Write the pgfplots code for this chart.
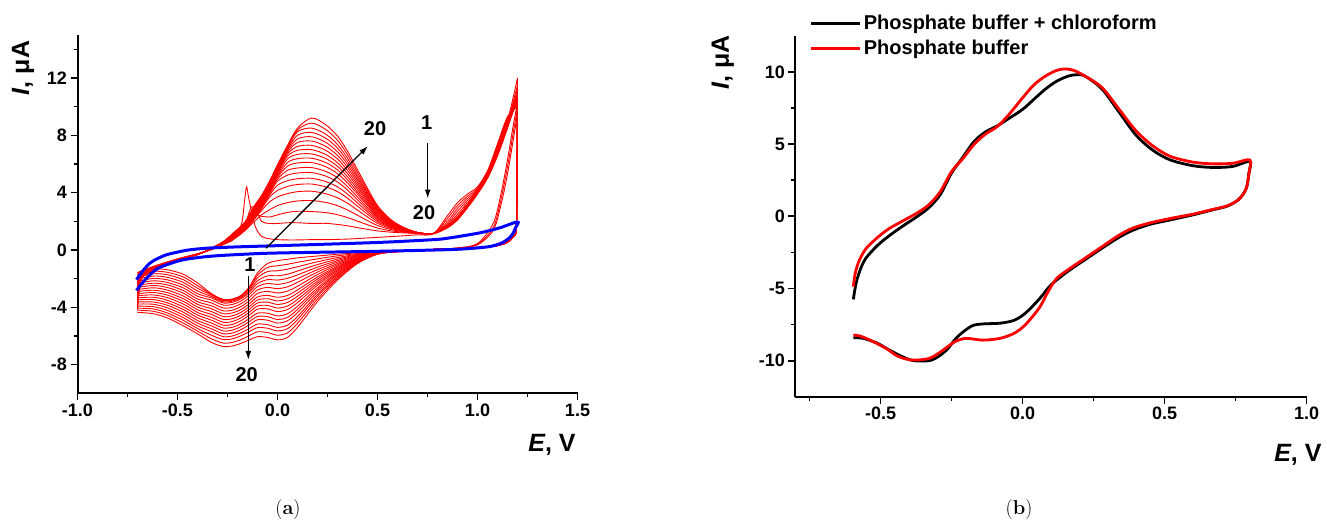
\documentclass[border=0pt]{standalone}
\usepackage{pgfplots}
\usepackage{pgfplotstable}
\pgfplotsset{compat=1.18}
\usepackage{fontspec}
\usetikzlibrary{arrows.meta}
\newfontfamily\arial{Liberation Sans}

\pgfplotstableread{
x c1 c2 c3 c4 c5 c6 c7 c8 c9 c10 c11 c12 c13 c14 c15 c16 c17 c18 c19 c20
-0.70 -1.60 -1.60 -1.74 -1.89 -2.03 -2.18 -2.32 -2.47 -2.61 -2.76 -2.90 -3.05 -3.19 -3.34 -3.48 -3.63 -3.77 -3.92 -4.06 -4.20
-0.68 -1.45 -1.48 -1.51 -1.54 -1.57 -1.60 -1.63 -1.66 -1.69 -1.72 -1.75 -1.78 -1.81 -1.84 -1.87 -1.90 -1.93 -1.96 -1.99 -2.02
-0.60 -1.05 -1.07 -1.08 -1.10 -1.11 -1.13 -1.14 -1.16 -1.17 -1.19 -1.20 -1.22 -1.23 -1.25 -1.26 -1.28 -1.29 -1.31 -1.32 -1.34
-0.50 -0.62 -0.63 -0.64 -0.64 -0.65 -0.66 -0.67 -0.68 -0.68 -0.69 -0.70 -0.71 -0.72 -0.72 -0.73 -0.74 -0.75 -0.76 -0.76 -0.77
-0.40 -0.27 -0.27 -0.28 -0.28 -0.28 -0.29 -0.29 -0.29 -0.30 -0.30 -0.30 -0.31 -0.31 -0.31 -0.32 -0.32 -0.32 -0.33 -0.33 -0.33
-0.33 0.03 0.04 0.04 0.05 0.05 0.06 0.06 0.07 0.07 0.08 0.08 0.09 0.09 0.10 0.10 0.11 0.11 0.12 0.12 0.13
-0.27 0.40 0.40 0.40 0.40 0.41 0.43 0.44 0.45 0.46 0.48 0.49 0.50 0.51 0.53 0.54 0.55 0.56 0.58 0.59 0.60
-0.22 0.74 0.76 0.76 0.75 0.78 0.81 0.83 0.86 0.89 0.92 0.95 0.98 1.00 1.03 1.06 1.09 1.12 1.14 1.17 1.20
-0.18 1.80 1.25 1.20 1.15 1.18 1.22 1.25 1.29 1.32 1.36 1.39 1.43 1.46 1.49 1.53 1.56 1.60 1.63 1.67 1.70
-0.165 3.40 1.60 nan nan nan nan nan nan nan nan nan nan nan nan nan nan nan nan nan nan
-0.155 4.40 2.00 1.60 1.45 1.49 1.53 1.57 1.61 1.65 1.69 1.73 1.78 1.82 1.86 1.90 1.94 1.98 2.02 2.06 2.10
-0.145 3.70 2.50 nan nan nan nan nan nan nan nan nan nan nan nan nan nan nan nan nan nan
-0.13 2.70 3.00 2.20 1.80 1.91 1.96 2.02 2.08 2.13 2.19 2.24 2.30 2.36 2.41 2.47 2.53 2.58 2.64 2.69 2.75
-0.11 1.60 2.90 2.45 2.05 2.24 2.33 2.39 2.45 2.51 2.58 2.64 2.70 2.76 2.83 2.89 2.95 3.01 3.08 3.14 3.20
-0.08 0.95 2.00 2.35 2.45 2.75 2.87 2.95 3.01 3.08 3.14 3.21 3.28 3.34 3.41 3.47 3.54 3.60 3.67 3.73 3.80
-0.04 0.78 1.85 2.30 2.80 3.35 3.68 3.82 3.92 4.00 4.08 4.15 4.23 4.30 4.37 4.44 4.51 4.58 4.66 4.73 4.80
0.00 0.72 1.85 2.45 3.10 3.70 4.15 4.52 4.80 4.95 5.07 5.17 5.27 5.36 5.44 5.53 5.61 5.70 5.78 5.87 5.95
0.05 0.70 1.90 2.62 3.30 3.93 4.43 4.83 5.22 5.55 5.85 6.10 6.35 6.55 6.70 6.82 6.93 7.03 7.13 7.21 7.30
0.10 0.70 1.90 2.70 3.42 4.07 4.57 4.97 5.37 5.72 6.07 6.37 6.67 6.95 7.22 7.50 7.75 8.00 8.25 8.38 8.50
0.17 0.72 1.85 2.68 3.45 4.10 4.60 5.00 5.40 5.75 6.10 6.40 6.70 7.00 7.30 7.60 7.90 8.20 8.50 8.85 9.20
0.24 0.72 1.86 2.61 3.32 3.93 4.41 4.78 5.16 5.49 5.82 6.11 6.39 6.67 6.96 7.24 7.52 7.81 8.09 8.42 8.75
0.30 0.74 1.78 2.46 3.09 3.64 4.07 4.40 4.74 5.04 5.33 5.59 5.84 6.09 6.35 6.60 6.85 7.11 7.36 7.66 7.95
0.35 0.76 1.69 2.26 2.79 3.26 3.61 3.90 4.18 4.43 4.68 4.90 5.11 5.33 5.54 5.76 5.97 6.18 6.40 6.65 6.90
0.40 0.80 1.56 2.01 2.42 2.78 3.06 3.28 3.50 3.69 3.89 4.05 4.22 4.39 4.55 4.72 4.88 5.05 5.21 5.41 5.60
0.45 0.84 1.44 1.76 2.05 2.30 2.50 2.66 2.81 2.95 3.09 3.20 3.32 3.44 3.55 3.67 3.79 3.91 4.02 4.16 4.30
0.50 0.88 1.33 1.53 1.71 1.86 1.98 2.08 2.18 2.26 2.35 2.42 2.49 2.57 2.64 2.71 2.78 2.86 2.93 3.01 3.10
0.56 0.93 1.25 1.35 1.45 1.53 1.60 1.65 1.70 1.75 1.79 1.83 1.87 1.91 1.95 1.99 2.03 2.07 2.11 2.15 2.20
0.62 0.98 1.20 1.25 1.29 1.33 1.36 1.39 1.41 1.44 1.46 1.48 1.49 1.51 1.53 1.55 1.57 1.59 1.61 1.63 1.65
0.70 1.06 1.16 1.16 1.17 1.18 1.18 1.18 1.19 1.19 1.19 1.20 1.20 1.20 1.21 1.21 1.21 1.21 1.22 1.22 1.22
0.78 1.14 1.15 1.15 1.15 1.15 1.15 1.15 1.15 1.15 1.15 1.15 1.15 1.15 1.15 1.15 1.15 1.15 1.15 1.15 1.15
0.85 2.40 2.20 2.00 1.85 1.75 1.70 1.65 1.55 1.56 1.58 1.59 1.60 1.61 1.63 1.64 1.65 1.66 1.68 1.69 1.70
0.90 3.30 3.10 2.90 2.70 2.50 2.35 2.25 2.10 2.12 2.13 2.15 2.17 2.18 2.20 2.22 2.23 2.25 2.27 2.28 2.30
0.95 3.90 3.75 3.60 3.45 3.30 3.15 3.05 2.95 2.97 2.99 3.01 3.03 3.05 3.08 3.10 3.12 3.14 3.16 3.18 3.20
1.00 4.40 4.30 4.20 4.10 4.05 4.00 3.95 3.90 3.93 3.97 4.00 4.03 4.07 4.10 4.13 4.17 4.20 4.23 4.27 4.30
1.05 5.50 5.40 5.35 5.30 5.25 5.20 5.10 5.00 5.04 5.08 5.13 5.17 5.21 5.25 5.29 5.33 5.38 5.42 5.46 5.50
1.10 7.00 6.95 6.90 6.85 6.80 6.75 6.65 6.55 6.62 6.69 6.76 6.83 6.90 6.97 7.05 7.12 7.19 7.26 7.33 7.40
1.15 9.00 8.90 8.85 8.80 8.75 8.70 8.60 8.50 8.57 8.63 8.70 8.77 8.83 8.90 8.97 9.03 9.10 9.17 9.23 9.30
1.20 12.0 11.5 11.2 11.0 10.9 10.8 10.7 10.6 10.6 10.5 10.5 10.4 10.4 10.3 10.3 10.2 10.2 10.1 10.1 10.0
}\cvup

\pgfplotstableread{
x c1 c2 c3 c4 c5 c6 c7 c8 c9 c10 c11 c12 c13 c14 c15 c16 c17 c18 c19 c20
1.20 12.0 11.5 11.2 11.0 10.9 10.8 10.7 10.6 10.6 10.5 10.5 10.4 10.4 10.3 10.3 10.2 10.2 10.1 10.1 10.0
1.195 10.0 9.6 9.2 2.0 2.0 2.0 2.0 2.0 2.0 2.0 2.0 2.0 2.0 2.0 2.0 2.0 2.0 2.0 2.0 2.0
1.18 8.8 8.3 7.8 0.95 0.95 0.95 0.95 0.95 0.95 0.95 0.95 0.95 0.95 0.95 0.95 0.95 0.95 0.95 0.95 0.95
1.15 6.3 5.8 5.3 0.55 0.55 0.55 0.55 0.55 0.55 0.55 0.55 0.55 0.55 0.55 0.55 0.55 0.55 0.55 0.55 0.55
1.12 4.1 3.7 3.3 0.38 0.38 0.38 0.38 0.38 0.38 0.38 0.38 0.38 0.38 0.38 0.38 0.38 0.38 0.38 0.38 0.38
1.08 1.9 1.6 1.4 0.26 0.26 0.26 0.26 0.26 0.26 0.26 0.26 0.26 0.26 0.26 0.26 0.26 0.26 0.26 0.26 0.26
1.00 0.45 0.40 0.35 0.15 0.15 0.15 0.15 0.15 0.15 0.15 0.15 0.15 0.15 0.15 0.15 0.15 0.15 0.15 0.15 0.15
0.90 0.15 0.13 0.12 0.10 0.10 0.10 0.10 0.10 0.10 0.10 0.10 0.10 0.10 0.10 0.10 0.10 0.10 0.10 0.10 0.10
0.80 0.05 0.05 0.05 0.05 0.05 0.05 0.05 0.05 0.05 0.05 0.05 0.05 0.05 0.05 0.05 0.05 0.05 0.05 0.05 0.05
0.70 -0.02 -0.02 -0.02 -0.02 -0.02 -0.02 -0.02 -0.02 -0.02 -0.02 -0.02 -0.02 -0.02 -0.02 -0.02 -0.02 -0.02 -0.02 -0.02 -0.02
0.60 -0.07 -0.08 -0.08 -0.08 -0.09 -0.09 -0.09 -0.09 -0.10 -0.10 -0.10 -0.10 -0.11 -0.11 -0.11 -0.11 -0.12 -0.12 -0.12 -0.12
0.50 -0.12 -0.13 -0.14 -0.15 -0.16 -0.17 -0.18 -0.19 -0.20 -0.21 -0.22 -0.23 -0.24 -0.25 -0.26 -0.26 -0.27 -0.28 -0.29 -0.30
0.40 -0.20 -0.25 -0.30 -0.34 -0.38 -0.42 -0.47 -0.51 -0.55 -0.58 -0.61 -0.65 -0.68 -0.72 -0.76 -0.79 -0.83 -0.87 -0.91 -0.95
0.30 -0.30 -0.41 -0.53 -0.64 -0.74 -0.84 -0.94 -1.03 -1.13 -1.21 -1.29 -1.38 -1.46 -1.56 -1.64 -1.72 -1.82 -1.90 -2.00 -2.10
0.20 -0.42 -0.62 -0.82 -1.02 -1.20 -1.37 -1.54 -1.72 -1.89 -2.03 -2.18 -2.32 -2.46 -2.64 -2.78 -2.93 -3.10 -3.24 -3.42 -3.60
0.10 -0.55 -0.86 -1.17 -1.47 -1.74 -2.00 -2.26 -2.53 -2.79 -3.01 -3.23 -3.45 -3.67 -3.93 -4.15 -4.37 -4.64 -4.86 -5.12 -5.40
0.05 -0.65 -1.00 -1.34 -1.69 -1.98 -2.28 -2.57 -2.87 -3.17 -3.41 -3.66 -3.91 -4.15 -4.45 -4.70 -4.94 -5.24 -5.49 -5.78 -6.10
0.00 -0.75 -1.10 -1.45 -1.80 -2.10 -2.40 -2.70 -3.00 -3.30 -3.55 -3.80 -4.05 -4.30 -4.60 -4.85 -5.10 -5.40 -5.65 -5.95 -6.27
-0.05 -0.95 -1.22 -1.51 -1.81 -2.07 -2.34 -2.61 -2.89 -3.17 -3.40 -3.64 -3.87 -4.11 -4.41 -4.65 -4.90 -5.21 -5.46 -5.76 -6.10
-0.10 -1.60 -1.76 -1.94 -2.15 -2.34 -2.56 -2.79 -3.03 -3.28 -3.49 -3.70 -3.91 -4.13 -4.41 -4.64 -4.87 -5.17 -5.42 -5.71 -6.05
-0.14 -2.55 -2.62 -2.70 -2.82 -2.94 -3.11 -3.32 -3.53 -3.74 -3.94 -4.13 -4.33 -4.53 -4.78 -4.99 -5.21 -5.47 -5.69 -5.97 -6.27
-0.18 -3.15 -3.19 -3.23 -3.31 -3.39 -3.54 -3.73 -3.93 -4.13 -4.33 -4.52 -4.71 -4.91 -5.13 -5.33 -5.54 -5.76 -5.97 -6.24 -6.50
-0.22 -3.40 -3.44 -3.48 -3.55 -3.63 -3.78 -3.98 -4.18 -4.37 -4.57 -4.77 -4.97 -5.17 -5.37 -5.57 -5.77 -5.98 -6.18 -6.43 -6.68
-0.27 -3.45 -3.50 -3.55 -3.62 -3.70 -3.85 -4.05 -4.25 -4.45 -4.65 -4.85 -5.05 -5.25 -5.45 -5.65 -5.85 -6.05 -6.25 -6.50 -6.74
-0.33 -3.05 -3.10 -3.15 -3.25 -3.35 -3.50 -3.70 -3.90 -4.10 -4.30 -4.50 -4.70 -4.90 -5.10 -5.30 -5.50 -5.70 -5.95 -6.20 -6.45
-0.40 -2.30 -2.49 -2.67 -2.86 -3.05 -3.23 -3.42 -3.61 -3.79 -3.98 -4.17 -4.36 -4.54 -4.73 -4.92 -5.10 -5.29 -5.48 -5.66 -5.85
-0.47 -1.70 -1.89 -2.08 -2.27 -2.46 -2.65 -2.84 -3.02 -3.22 -3.41 -3.59 -3.78 -3.98 -4.16 -4.35 -4.54 -4.73 -4.92 -5.11 -5.30
-0.55 -1.38 -1.56 -1.73 -1.91 -2.09 -2.27 -2.44 -2.62 -2.80 -2.98 -3.15 -3.33 -3.51 -3.69 -3.86 -4.04 -4.22 -4.40 -4.57 -4.75
-0.62 -1.33 -1.49 -1.66 -1.82 -1.99 -2.15 -2.32 -2.48 -2.64 -2.81 -2.97 -3.14 -3.30 -3.46 -3.63 -3.79 -3.96 -4.12 -4.28 -4.45
-0.70 -1.60 -1.74 -1.89 -2.03 -2.18 -2.32 -2.47 -2.61 -2.76 -2.90 -3.05 -3.19 -3.34 -3.48 -3.63 -3.77 -3.92 -4.06 -4.20 -4.35
}\cvdown

\pgfplotsset{
  cvstyle/.style={
    scale only axis,
    axis x line*=bottom, axis y line*=left,
    axis line style={-, line width=2pt},
    tick pos=left,
    tick align=outside,
    major tick length=7pt, minor tick length=4pt,
    tick style={black, line width=1.6pt},
    tick label style={font=\arial\bfseries\fontsize{18}{18}\selectfont},
    label style={font=\arial\bfseries\fontsize{25}{25}\selectfont},
    clip=false,
  },
}
\tikzset{
  arr/.style={-{Latex[length=9pt,width=6pt]}, line width=1.3pt, black},
  ann/.style={font=\arial\bfseries\fontsize{20}{20}\selectfont},
}

\begin{document}
\begin{tikzpicture}[x=1pt,y=1pt]
\useasboundingbox (0pt,0pt) rectangle (1327pt,521pt);

\begin{axis}[cvstyle,
  at={(77.5pt,127.7pt)}, anchor=south west,
  width=500pt, height=358.3pt,
  xmin=-1, xmax=1.5, ymin=-10, ymax=15,
  xtick={-1,-0.5,0,0.5,1,1.5}, xticklabels={-1.0,-0.5,0.0,0.5,1.0,1.5},
  minor xtick={-0.75,-0.25,0.25,0.75,1.25},
  ytick={-8,-4,0,4,8,12}, yticklabels={-8,-4,0,4,8,12},
  minor ytick={-6,-2,2,6,10,14},
  xlabel={\textit{E}, V}, ylabel={\textit{I}, μA},
  xlabel style={at={(axis description cs:0.949,-0.144)}, anchor=center},
  ylabel style={at={(axis description cs:-0.109,0.908)}, anchor=center},
]
\pgfplotsinvokeforeach{1,...,20}{
  \addplot[red, line width=0.9pt, smooth, tension=0.5] table[x=x, y=c#1] {\cvup};
  \addplot[red, line width=0.9pt, smooth, tension=0.5] table[x=x, y=c#1] {\cvdown};
}
\addplot[blue, line width=3pt, smooth, tension=0.5] coordinates {
(-0.705,-2.07) (-0.67,-1.40) (-0.637,-0.91) (-0.60,-0.60) (-0.554,-0.33) (-0.50,-0.15)
(-0.454,-0.02) (-0.40,0.07) (-0.337,0.14) (-0.25,0.19) (-0.17,0.23) (0.0,0.30)
(0.28,0.42) (0.53,0.54) (0.78,0.72) (0.86,0.84) (1.01,1.19) (1.11,1.54) (1.20,1.96)
(1.19,1.55) (1.179,1.19) (1.16,0.85) (1.129,0.54) (1.09,0.33) (1.046,0.21) (0.95,0.09)
(0.846,0.02) (0.51,-0.09) (0.0,-0.21) (-0.17,-0.30) (-0.337,-0.44) (-0.47,-0.68)
(-0.554,-1.03) (-0.60,-1.30) (-0.637,-1.72) (-0.67,-2.20) (-0.705,-2.82)
};
\draw[arr] (axis cs:-0.0575,0.12) -- (axis cs:0.452,7.25);
\node[ann] at (axis cs:0.4875,8.46) {20};
\node[ann] at (axis cs:-0.1375,-1.03) {1};
\draw[arr] (axis cs:-0.146,-1.84) -- (axis cs:-0.146,-7.67);
\node[ann] at (axis cs:-0.154,-8.72) {20};
\draw[arr] (axis cs:0.751,7.44) -- (axis cs:0.751,3.59);
\node[ann] at (axis cs:0.746,8.88) {1};
\node[ann] at (axis cs:0.733,2.59) {20};
\end{axis}

\begin{axis}[cvstyle,
  at={(795.4pt,124.1pt)}, anchor=south west,
  width=511.2pt, height=361.2pt,
  xmin=-0.8, xmax=1.0, ymin=-12.5, ymax=12.5,
  xtick={-0.5,0,0.5,1}, xticklabels={-0.5,0.0,0.5,1.0},
  minor xtick={-0.75,-0.25,0.25,0.75},
  ytick={-10,-5,0,5,10}, yticklabels={-10,-5,0,5,10},
  minor ytick={-7.5,-2.5,2.5,7.5},
  xlabel={\textit{E}, V}, ylabel={\textit{I}, μA},
  xlabel style={at={(axis description cs:0.983,-0.161)}, anchor=center},
  ylabel style={at={(axis description cs:-0.142,0.926)}, anchor=center},
  legend style={draw=none, fill=none, at={(axis description cs:0.022,1.068)}, anchor=north west,
    font=\arial\bfseries\fontsize{20}{20}\selectfont, row sep=5pt},
  legend cell align=left,
  legend image code/.code={\draw[#1, line width=3pt] (0pt,0pt) -- (49pt,0pt);},
]
\addplot[black, line width=2.8pt, smooth, tension=0.5] coordinates {
(-0.596,-5.75) (-0.586,-4.6) (-0.57,-3.6) (-0.55,-2.85) (-0.51,-2.0) (-0.47,-1.35)
(-0.42,-0.65) (-0.37,0.0) (-0.33,0.6) (-0.29,1.5) (-0.25,3.0) (-0.21,4.1) (-0.17,5.2)
(-0.13,5.85) (-0.09,6.25) (-0.05,6.75) (0.0,7.4) (0.04,8.1) (0.08,8.8) (0.12,9.35)
(0.16,9.7) (0.19,9.8) (0.22,9.7) (0.28,8.8) (0.34,7.2) (0.40,5.6) (0.46,4.55) (0.52,3.9)
(0.60,3.5) (0.67,3.38) (0.74,3.45) (0.80,3.8)
(0.797,3.0) (0.787,1.9) (0.76,1.15) (0.72,0.7) (0.67,0.45) (0.60,0.1) (0.52,-0.25)
(0.45,-0.55) (0.39,-0.95) (0.34,-1.45) (0.28,-2.2) (0.22,-3.0) (0.16,-3.8) (0.10,-4.75)
(0.06,-5.7) (0.01,-6.7) (-0.03,-7.2) (-0.08,-7.4) (-0.14,-7.45) (-0.18,-7.6) (-0.23,-8.35)
(-0.27,-9.3) (-0.32,-9.95) (-0.38,-10.0) (-0.42,-9.75) (-0.47,-9.25) (-0.51,-8.8)
(-0.56,-8.45) (-0.596,-8.4)
};
\addlegendentry{Phosphate buffer + chloroform}
\addplot[red, line width=2.8pt, smooth, tension=0.5] coordinates {
(-0.596,-4.87) (-0.589,-3.9) (-0.574,-3.0) (-0.55,-2.2) (-0.51,-1.45) (-0.47,-0.85)
(-0.42,-0.3) (-0.37,0.25) (-0.33,0.8) (-0.29,1.7) (-0.25,3.1) (-0.21,4.0) (-0.17,5.0)
(-0.13,5.7) (-0.09,6.2) (-0.05,7.0) (0.0,8.2) (0.04,9.1) (0.08,9.7) (0.12,10.1)
(0.15,10.2) (0.18,10.1) (0.22,9.7) (0.28,8.9) (0.34,7.4) (0.40,5.9) (0.46,4.85)
(0.52,4.15) (0.60,3.75) (0.67,3.63) (0.74,3.67) (0.80,3.9)
(0.797,3.0) (0.787,1.9) (0.76,1.15) (0.72,0.72) (0.67,0.48) (0.60,0.15) (0.52,-0.15)
(0.45,-0.45) (0.39,-0.8) (0.34,-1.3) (0.28,-2.1) (0.22,-2.9) (0.16,-3.7) (0.12,-4.3)
(0.09,-5.2) (0.06,-6.3) (0.01,-7.5) (-0.03,-8.1) (-0.08,-8.45) (-0.14,-8.57) (-0.20,-8.45)
(-0.24,-8.7) (-0.29,-9.4) (-0.33,-9.84) (-0.39,-9.95) (-0.44,-9.68) (-0.48,-9.15)
(-0.53,-8.64) (-0.57,-8.3) (-0.596,-8.22)
};
\addlegendentry{Phosphate buffer}
\end{axis}

\node[font=\fontsize{20}{24}\selectfont] at (288pt,11pt) {(\textbf{a})};
\node[font=\fontsize{20}{24}\selectfont] at (1019pt,11pt) {(\textbf{b})};
\end{tikzpicture}
\end{document}
